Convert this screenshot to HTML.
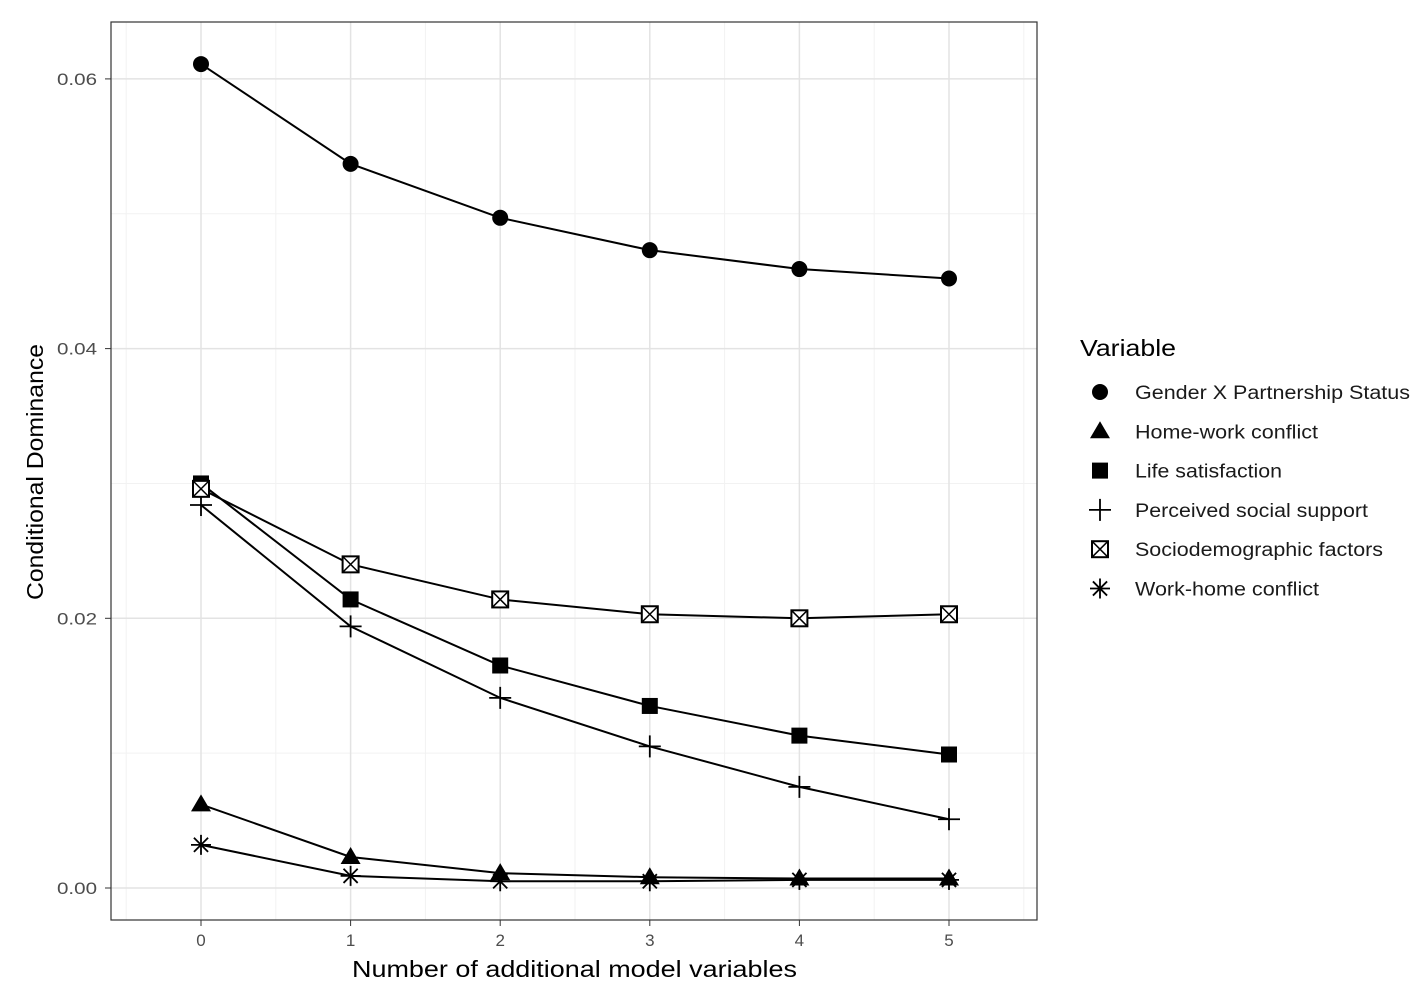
<!DOCTYPE html>
<html><head><meta charset="utf-8"><style>
body{margin:0;background:#fff;font-family:"Liberation Sans",sans-serif}
svg text{font-family:"Liberation Sans",sans-serif}
</style></head><body>
<svg id="chart" width="1417" height="998" xmlns="http://www.w3.org/2000/svg">
<rect x="0" y="0" width="1417" height="998" fill="#fff"/>
<g id="grid"></g>
<g id="series"></g>
<rect x="111" y="22" width="926" height="898" fill="none" stroke="#333" stroke-width="1.2"/>
<g id="axes"></g>
<text x="352" y="977" font-size="23" textLength="445" lengthAdjust="spacingAndGlyphs" fill="#000">Number of additional model variables</text>
<text transform="translate(43,600) rotate(-90)" font-size="23" textLength="256" lengthAdjust="spacingAndGlyphs" fill="#000">Conditional Dominance</text>
<g id="legend">
<text x="1080" y="356" font-size="23" textLength="96" lengthAdjust="spacingAndGlyphs" fill="#000">Variable</text>
</g>
</svg>
<script>
const xValues=[0,1,2,3,4,5];
const seriesNames=["Gender X Partnership Status","Home-work conflict","Life satisfaction","Perceived social support","Sociodemographic factors","Work-home conflict"];
const shapes=["circle","triangle","square","plus","boxx","star"];
const genderVals=[0.0611,0.0537,0.0497,0.0473,0.0459,0.0452];
const homeWorkVals=[0.0062,0.0023,0.0011,0.0008,0.0007,0.0007];
const lifeVals=[0.0300,0.0214,0.0165,0.0135,0.0113,0.0099];
const supportVals=[0.0284,0.0194,0.0141,0.0105,0.0075,0.0051];
const socioVals=[0.0296,0.0240,0.0214,0.0203,0.0200,0.0203];
const workHomeVals=[0.0032,0.0009,0.0005,0.0005,0.0006,0.0006];
const yTicks=[0,0.02,0.04,0.06];
const yTickLabels=["0.00","0.02","0.04","0.06"];
const yMinor=[0.01,0.03,0.05];
const allVals=[genderVals,homeWorkVals,lifeVals,supportVals,socioVals,workHomeVals];
const NS="http://www.w3.org/2000/svg";
const X=v=>201+v*149.6;
const Y=v=>888-v*13485;
function mk(tag,attrs,parent){const e=document.createElementNS(NS,tag);for(const k in attrs)e.setAttribute(k,attrs[k]);parent.appendChild(e);return e;}
const grid=document.getElementById('grid'),axes=document.getElementById('axes'),ser=document.getElementById('series'),leg=document.getElementById('legend');
yMinor.forEach(v=>{const l=mk('line',{x1:111,x2:1037,y1:Y(v),y2:Y(v),stroke:'#f2f2f2','stroke-width':1},grid);});
[-0.5,0.5,1.5,2.5,3.5,4.5,5.5].forEach(v=>{const l=mk('line',{x1:X(v),x2:X(v),y1:22,y2:920,stroke:'#f2f2f2','stroke-width':1},grid);});
yTicks.forEach((v,i)=>{const l=mk('line',{x1:111,x2:1037,y1:Y(v),y2:Y(v),stroke:'#e3e3e3','stroke-width':1.5},grid);
const t=mk('line',{x1:105,x2:111,y1:Y(v),y2:Y(v),stroke:'#333'},axes);
const tx=mk('text',{x:57,y:Y(v)+6,'font-size':17,textLength:40,lengthAdjust:'spacingAndGlyphs',fill:'#4d4d4d'},axes);tx.textContent=yTickLabels[i];});
xValues.forEach(v=>{const l=mk('line',{x1:X(v),x2:X(v),y1:22,y2:920,stroke:'#e3e3e3','stroke-width':1.5},grid);
const t=mk('line',{x1:X(v),x2:X(v),y1:920,y2:926,stroke:'#333'},axes);
const tx=mk('text',{x:X(v),y:946,'font-size':17,'text-anchor':'middle',fill:'#4d4d4d'},axes);tx.textContent=String(v);});
function marker(shape,x,y,p){
 let g=mk('g',{},p);
 if(shape==='circle')mk('circle',{cx:x,cy:y,r:8,fill:'#000'},g);
 else if(shape==='triangle')mk('polygon',{points:`${x},${y-10} ${x-10},${y+7} ${x+10},${y+7}`,fill:'#000'},g);
 else if(shape==='square')mk('rect',{x:x-8,y:y-8,width:16,height:16,fill:'#000'},g);
 else if(shape==='plus'){mk('line',{x1:x-11,x2:x+11,y1:y,y2:y,stroke:'#000','stroke-width':1.8},g);mk('line',{x1:x,x2:x,y1:y-11,y2:y+11,stroke:'#000','stroke-width':1.8},g);}
 else if(shape==='boxx'){mk('rect',{x:x-8,y:y-8,width:16,height:16,fill:'#fff',stroke:'#000','stroke-width':2},g);mk('path',{d:`M${x-8} ${y-8}L${x+8} ${y+8}M${x+8} ${y-8}L${x-8} ${y+8}`,stroke:'#000','stroke-width':1.5},g);}
 else {for(let a=0;a<4;a++){const an=a*Math.PI/4;mk('line',{x1:x-10*Math.cos(an),y1:y-10*Math.sin(an),x2:x+10*Math.cos(an),y2:y+10*Math.sin(an),stroke:'#000','stroke-width':1.8},g);}}
 return g;
}
const legendWidths=[275,183,147,233,248,184];
allVals.forEach((vals,si)=>{
 const pl=mk('polyline',{points:vals.map((v,i)=>X(xValues[i])+','+Y(v)).join(' '),fill:'none',stroke:'#000','stroke-width':2},ser);
 
 vals.forEach((v,i)=>{const m=marker(shapes[si],X(xValues[i]),Y(v),ser);});
 const ly=392+si*39.3;
 const lm=marker(shapes[si],1100,ly,leg);
 const lt=mk('text',{x:1135,y:ly+7,'font-size':19,textLength:legendWidths[si],lengthAdjust:'spacingAndGlyphs',fill:'#1a1a1a'},leg);lt.textContent=seriesNames[si];
});
</script>
</body></html>
